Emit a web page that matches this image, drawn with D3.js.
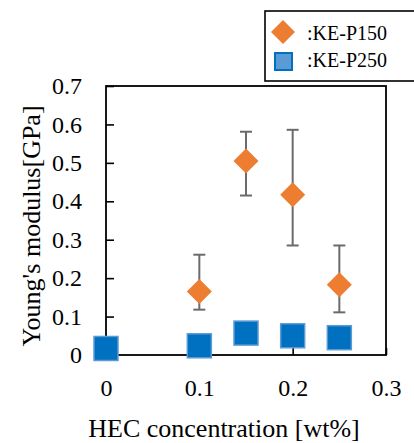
<!DOCTYPE html>
<html>
<head>
<meta charset="utf-8">
<script src="https://cdn.jsdelivr.net/npm/d3@7"></script>
<style>
  html, body { margin: 0; padding: 0; background: #fff; }
  svg { display: block; }
  text { font-family: "Liberation Serif", "Times New Roman", serif; fill: #000; }
</style>
</head>
<body>
<svg id="chart" width="414" height="443"></svg>
<script>
// HEC concentration [wt%]
const concP150 = [0.10, 0.15, 0.20, 0.25];
const meanP150 = [0.165, 0.505, 0.417, 0.183];
const hiP150   = [0.261, 0.581, 0.586, 0.285];
const loP150   = [0.118, 0.415, 0.285, 0.111];

const concP250 = [0.00, 0.10, 0.15, 0.20, 0.25];
const meanP250 = [0.017, 0.024, 0.057, 0.050, 0.045];

const xTicks = [0, 0.1, 0.2, 0.3];
const xTickLabels = ["0", "0.1", "0.2", "0.3"];
const yTicks = [0, 0.1, 0.2, 0.3, 0.4, 0.5, 0.6, 0.7];
const yTickLabels = ["0", "0.1", "0.2", "0.3", "0.4", "0.5", "0.6", "0.7"];

const seriesNames = [":KE-P150", ":KE-P250"];

const svg = d3.select("#chart");
const plotLeft = 106, plotRight = 386, plotTop = 86, plotBottom = 355;

const x = d3.scaleLinear().domain([0, 0.3]).range([plotLeft, plotRight]);
const y = d3.scaleLinear().domain([0, 0.7]).range([plotBottom, plotTop]);

// Axes with inward ticks
const gx = svg.append("g").attr("transform", `translate(0,${plotBottom})`)
  .call(d3.axisBottom(x).tickValues(xTicks)
    .tickFormat((d, i) => xTickLabels[i])
    .tickSizeInner(-7).tickSizeOuter(0).tickPadding(24));
const gy = svg.append("g").attr("transform", `translate(${plotLeft},0)`)
  .call(d3.axisLeft(y).tickValues(yTicks)
    .tickFormat((d, i) => yTickLabels[i])
    .tickSizeInner(-8).tickSizeOuter(0).tickPadding(24));
[gx, gy].forEach(g => {
  g.select(".domain").remove();
  g.selectAll(".tick line").attr("stroke", "#000").attr("stroke-width", 1.6);
  g.selectAll(".tick text").style("font-size", "24px").attr("fill", "#000")
    .style("font-family", '"Liberation Serif", serif');
});

// Plot frame
svg.append("rect")
  .attr("x", plotLeft).attr("y", plotTop)
  .attr("width", plotRight - plotLeft).attr("height", plotBottom - plotTop)
  .attr("fill", "none").attr("stroke", "#000").attr("stroke-width", 1.8);

// Error bars for KE-P150
const capHalf = 6;
const eb = svg.append("g").attr("stroke", "#6b6b6b").attr("stroke-width", 2).attr("fill", "none");
concP150.forEach((c, i) => {
  const cx = x(c);
  eb.append("line").attr("x1", cx).attr("x2", cx).attr("y1", y(hiP150[i])).attr("y2", y(loP150[i]));
  eb.append("line").attr("x1", cx - capHalf).attr("x2", cx + capHalf).attr("y1", y(hiP150[i])).attr("y2", y(hiP150[i]));
  eb.append("line").attr("x1", cx - capHalf).attr("x2", cx + capHalf).attr("y1", y(loP150[i])).attr("y2", y(loP150[i]));
});

// KE-P250 squares
const sq = 24;
svg.append("g").selectAll("rect")
  .data(concP250.map((c, i) => [c, meanP250[i]]))
  .join("rect")
  .attr("x", d => x(d[0]) - sq / 2).attr("y", d => y(d[1]) - sq / 2)
  .attr("width", sq).attr("height", sq)
  .attr("fill", "#0070C0").attr("stroke", "#5B9BD5").attr("stroke-width", 1.5);

// KE-P150 diamonds
const dh = 12.5;
const diamond = (cx, cy, r) => `M${cx},${cy - r}L${cx + r},${cy}L${cx},${cy + r}L${cx - r},${cy}Z`;
svg.append("g").selectAll("path")
  .data(concP150.map((c, i) => [c, meanP150[i]]))
  .join("path")
  .attr("d", d => diamond(x(d[0]), y(d[1]), dh))
  .attr("fill", "#ED7D31");

// Axis titles
svg.append("text")
  .attr("x", 224).attr("y", 437)
  .attr("text-anchor", "middle")
  .style("font-size", "26px")
  .text("HEC concentration [wt%]");
svg.append("text")
  .attr("transform", "translate(40,226) rotate(-90)")
  .attr("text-anchor", "middle")
  .style("font-size", "26px")
  .text("Young's modulus[GPa]");

// Legend
const lg = svg.append("g");
lg.append("rect")
  .attr("x", 265).attr("y", 11).attr("width", 160).attr("height", 70)
  .attr("fill", "#fff").attr("stroke", "#000").attr("stroke-width", 1.6);
lg.append("path").attr("d", diamond(283, 32, 12)).attr("fill", "#ED7D31");
lg.append("rect").attr("x", 275).attr("y", 53).attr("width", 17).attr("height", 17)
  .attr("fill", "#5B9BD5").attr("stroke", "#0070C0").attr("stroke-width", 2);
lg.append("text").attr("x", 307).attr("y", 40).style("font-size", "20px").text(seriesNames[0]);
lg.append("text").attr("x", 307).attr("y", 67).style("font-size", "20px").text(seriesNames[1]);
</script>
</body>
</html>
